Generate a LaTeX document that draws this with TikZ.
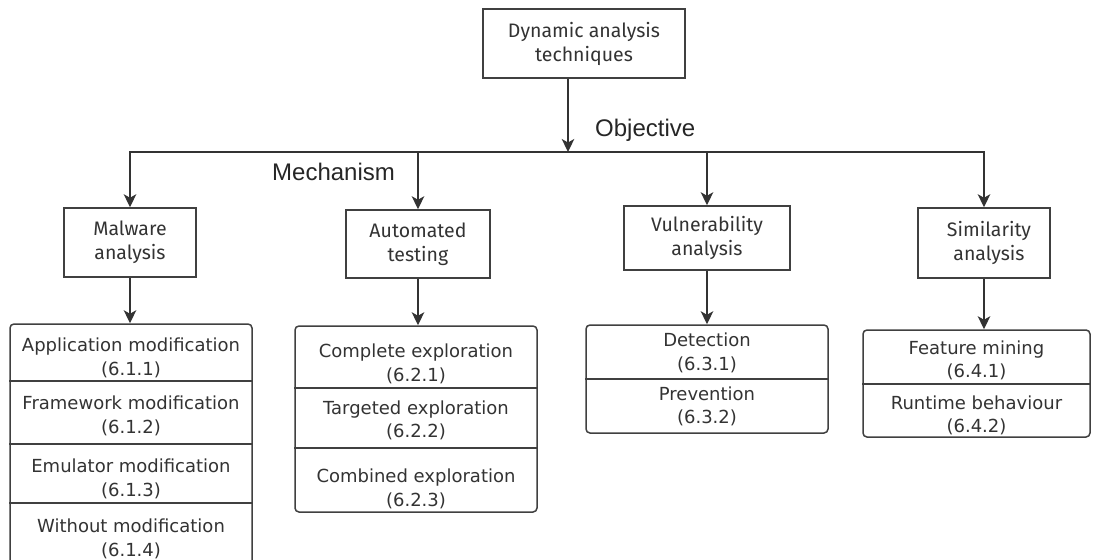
\documentclass[tikz,border=0pt]{standalone}
\usepackage{fontspec}
\setmainfont{DejaVu Sans}
\newfontfamily\boxfont{Fira Sans}
\newfontfamily\labelfont{Liberation Sans}
\usetikzlibrary{arrows.meta}
\definecolor{ink}{HTML}{333333}
\definecolor{edge}{HTML}{404040}

\begin{document}
\begin{tikzpicture}[x=1pt,y=-1pt,
  catbox/.style={draw=edge, line width=1.5pt, inner sep=0pt, align=center, text=ink,
    font=\boxfont\fontsize{19.5}{24}\selectfont},
  listbox/.style={draw=edge, line width=1.5pt, rounded corners=4pt, inner sep=0pt},
  item/.style={align=center, text=ink, inner sep=0pt, font=\fontsize{18}{23.5}\selectfont},
  arr/.style={draw=ink, line width=1.5pt, -{Stealth[length=13pt,width=12.5pt,inset=3.5pt]}},
  sep/.style={draw=edge, line width=1.5pt},
  tag/.style={anchor=west, text=black!85, inner sep=0pt,
    font=\labelfont\fontsize{24}{28}\selectfont}]

% canvas
\useasboundingbox (0,0) rectangle (1096,560);
\fill[white] (0,0) rectangle (1096,560);
\clip (0,0) rectangle (1096,560);

% root
\node[catbox, minimum width=202pt, minimum height=69pt] (root) at (584,43.5) {Dynamic analysis\\techniques};
\coordinate (hub) at (568,152);

% categories
\node[catbox, minimum width=132pt, minimum height=69pt] (mal) at (130,242.5) {Malware\\analysis};
\node[catbox, minimum width=144pt, minimum height=68pt] (aut) at (418,244) {Automated\\testing};
\node[catbox, minimum width=166pt, minimum height=64pt] (vul) at (707,238) {Vulnerability\\analysis};
\node[catbox, minimum width=132pt, minimum height=70pt] (sim) at (984,243)
  {\hspace*{10pt}Similarity\\\hspace*{10pt}analysis};

% axis labels
\node[tag] (obj) at (595,130) {Objective};
\node[tag] (mech) at (272,172) {Mechanism};

% sub-technique lists
\node[listbox, minimum width=242pt, minimum height=250pt] (mallist) at (131,449) {};
\node[listbox, minimum width=242pt, minimum height=186pt] (autlist) at (416,419) {};
\node[listbox, minimum width=242pt, minimum height=108pt] (vullist) at (707,379) {};
\node[listbox, minimum width=227pt, minimum height=107pt] (simlist) at (976.5,383.5) {};

\draw[sep] (mallist.west |- 0,381) -- (mallist.east |- 0,381);
\draw[sep] (mallist.west |- 0,444) -- (mallist.east |- 0,444);
\draw[sep] (mallist.west |- 0,503) -- (mallist.east |- 0,503);
\draw[sep] (autlist.west |- 0,388) -- (autlist.east |- 0,388);
\draw[sep] (autlist.west |- 0,448) -- (autlist.east |- 0,448);
\draw[sep] (vullist.west |- 0,379) -- (vullist.east |- 0,379);
\draw[sep] (simlist.west |- 0,384) -- (simlist.east |- 0,384);

\node[item] (m1) at (131,358) {Application modification\\(6.1.1)};
\node[item] (m2) at (131,416) {Framework modification\\(6.1.2)};
\node[item] (m3) at (131,479) {Emulator modification\\(6.1.3)};
\node[item] (m4) at (131,539) {Without modification\\(6.1.4)};

\node[item] (a1) at (416,364) {Complete exploration\\(6.2.1)};
\node[item] (a2) at (416,420.5) {Targeted exploration\\(6.2.2)};
\node[item] (a3) at (416,489) {Combined exploration\\(6.2.3)};

\node[item] (v1) at (707,353) {Detection\\(6.3.1)};
\node[item] (v2) at (707,406.5) {Prevention\\(6.3.2)};

\node[item] (s1) at (976.5,360.5) {Feature mining\\(6.4.1)};
\node[item] (s2) at (976.5,415.5) {Runtime behaviour\\(6.4.2)};

% connectors
\draw[arr] (root.south -| hub) -- (hub);
\draw[arr] (hub) -| (mal.north);
\draw[arr] (hub) -| (aut.north);
\draw[arr] (hub) -| (vul.north);
\draw[arr] (hub) -| (sim.north);

\draw[arr] (mal.south) -- (mal.south |- mallist.north);
\draw[arr] (aut.south) -- (aut.south |- autlist.north);
\draw[arr] (vul.south) -- (vul.south |- vullist.north);
\draw[arr] (sim.south) -- (sim.south |- simlist.north);
\end{tikzpicture}
\end{document}
